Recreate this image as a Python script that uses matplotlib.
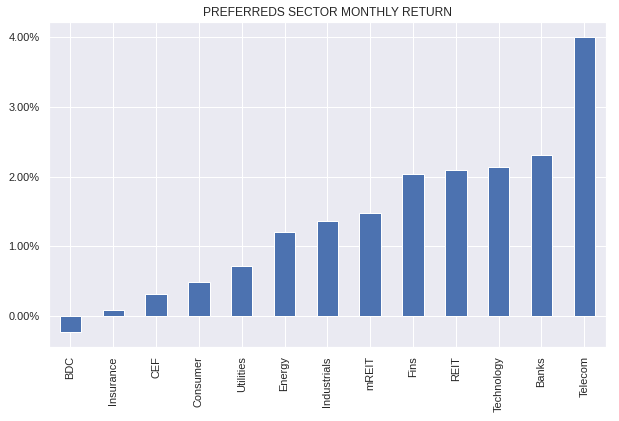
import numpy as np
import matplotlib
matplotlib.use("Agg")
import matplotlib.pyplot as plt
import seaborn as sns
from matplotlib.ticker import PercentFormatter

sectors = ['BDC', 'Insurance', 'CEF', 'Consumer', 'Utilities', 'Energy',
           'Industrials', 'mREIT', 'Fins', 'REIT', 'Technology', 'Banks', 'Telecom']
# monthly return, percent
returns = [-0.23, 0.08, 0.32, 0.49, 0.71, 1.20, 1.37, 1.48, 2.04, 2.10, 2.14, 2.31, 4.01]

sns.set_theme(style='darkgrid')
plt.rcParams['font.family'] = ['Liberation Sans', 'DejaVu Sans']

fig = plt.figure(figsize=(619/72, 421/72), dpi=72)
ax = fig.add_axes([49/619, 1 - 346.7/421, 556.7/619, 324.7/421])

x = np.arange(len(sectors))
ax.bar(x, returns, width=0.5, color='#4C72B0', edgecolor='white', linewidth=1)
ax.set_xticks(x)
ax.set_xticklabels(sectors, rotation=90, fontsize=11, color='#262626')
ax.set_xlim(-0.5, len(sectors) - 0.5)
ax.set_yticks([0, 1, 2, 3, 4])
ax.yaxis.set_major_formatter(PercentFormatter(xmax=100, decimals=2))
ax.tick_params(axis='y', labelsize=11, labelcolor='#262626')
ax.set_title('PREFERREDS SECTOR MONTHLY RETURN', fontsize=12, color='#262626')

fig.savefig('out.png', dpi=72)
